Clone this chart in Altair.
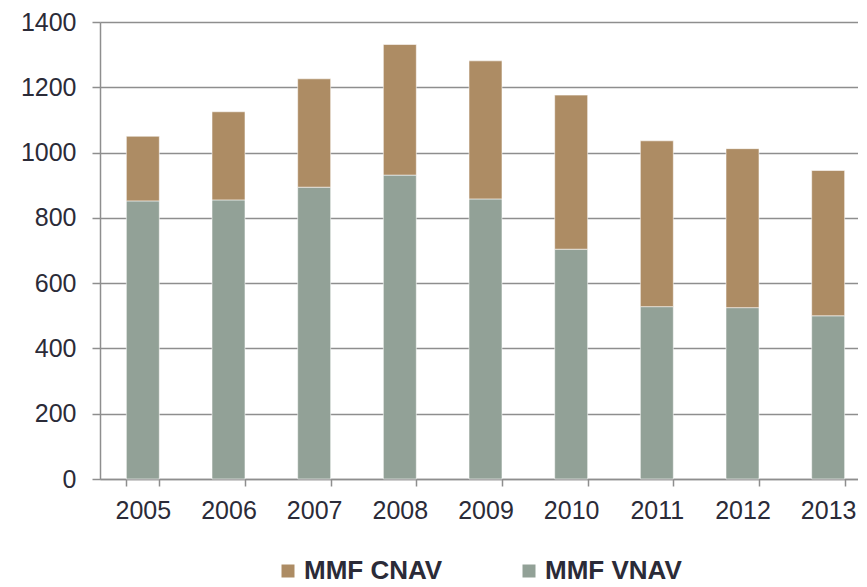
import altair as alt
import pandas as pd

years = ["2005", "2006", "2007", "2008", "2009", "2010", "2011", "2012", "2013"]
vnav = [852, 855, 894, 931, 858, 704, 528, 525, 500]
cnav = [198, 270, 332, 400, 423, 472, 508, 487, 445]
series = ["MMF CNAV", "MMF VNAV"]
colors = ["#AD8C64", "#92A197"]
y_ticks = [0, 200, 400, 600, 800, 1000, 1200, 1400]

rows = []
for i, yr in enumerate(years):
    rows.append({"year": yr, "series": "MMF VNAV", "value": vnav[i], "ord": 0})
    rows.append({"year": yr, "series": "MMF CNAV", "value": cnav[i], "ord": 1})
df = pd.DataFrame(rows)

FONT = "Liberation Sans"
TXT = "#2b2b38"
GRID = "#8e8e8e"

chart = alt.Chart(df).mark_bar(stroke="white", strokeWidth=1, strokeOpacity=0.55).encode(
    x=alt.X("year:N", sort=years,
            scale=alt.Scale(paddingInner=0.615, paddingOuter=0.3075, range=[0, 771]),
            axis=alt.Axis(title=None, labelAngle=0, tickBand="extent", tickSize=7,
                          labelPadding=12, labelFontSize=25, labelFont=FONT,
                          labelColor=TXT, domainColor=GRID, domainWidth=1.5,
                          tickColor=GRID, tickWidth=1.5, grid=False)),
    y=alt.Y("value:Q", stack="zero",
            scale=alt.Scale(domain=[0, 1400], nice=False),
            axis=alt.Axis(title=None, values=y_ticks, format="d", grid=True, gridColor=GRID,
                          gridWidth=1.5, domainColor=GRID, domainWidth=1.5,
                          tickColor=GRID, tickWidth=1.5, tickSize=8,
                          labelPadding=16, labelFontSize=25, labelFont=FONT,
                          labelColor=TXT)),
    color=alt.Color("series:N", scale=alt.Scale(domain=series, range=colors),
                    legend=alt.Legend(title=None, orient="none", legendX=175, legendY=536,
                                      direction="horizontal", symbolType="square",
                                      symbolSize=169, symbolStrokeWidth=0,
                                      labelFontSize=26, labelFontWeight="bold",
                                      labelFont=FONT, labelColor=TXT,
                                      labelOffset=3, columnPadding=73)),
    order=alt.Order("ord:Q", sort="ascending"),
).properties(
    width=758, height=457,
    autosize=alt.AutoSizeParams(type="none"),
    padding={"left": 92, "top": 14, "right": 0, "bottom": 108},
).configure_view(stroke=None)

chart.save("out.html", embed_options={"renderer": "svg", "actions": False})
